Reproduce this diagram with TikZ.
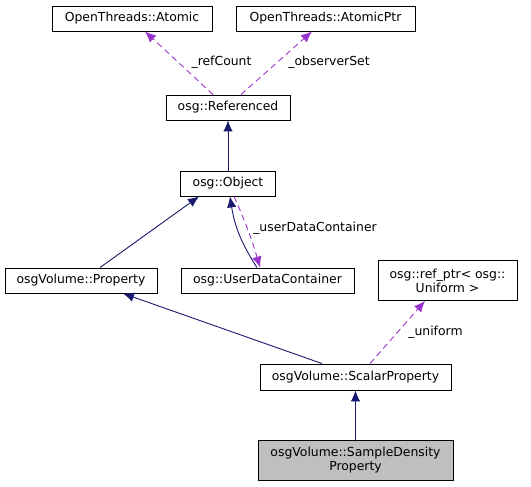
\documentclass[tikz,border=0pt]{standalone}
\usepackage{fontspec}
\setmainfont{DejaVu Sans}
\usetikzlibrary{arrows.meta}
\definecolor{edgeblue}{HTML}{191970}
\definecolor{edgepurple}{HTML}{9A32CD}
\definecolor{boxgray}{HTML}{BFBFBF}

\begin{document}
\begin{tikzpicture}
	[x=1pt,y=-1pt,every node/.style={draw,rectangle,inner sep=0pt,line width=0.9pt,font=\fontsize{12.4}{14}\selectfont,align=center},
	 inherit/.style={->,>={Latex[length=11pt,width=9.5pt]},edgeblue,line width=0.9pt},
	 member/.style={->,>={Latex[length=11pt,width=9.5pt]},edgepurple,line width=0.9pt,dash pattern=on 6pt off 4pt},
	 lbl/.style={draw=none}]
	\useasboundingbox (0,0) rectangle (531,487);
	\node[minimum width=160pt,minimum height=25pt] (atomic) at (132,18.5) {OpenThreads::Atomic};
	\node[minimum width=179pt,minimum height=25pt] (atomicptr) at (325.5,18.5) {OpenThreads::AtomicPtr};
	\node[minimum width=124pt,minimum height=25pt] (refd) at (228,107.5) {osg::Referenced};
	\node[minimum width=95pt,minimum height=25pt] (obj) at (228,183.5) {osg::Object};
	\node[minimum width=152pt,minimum height=25pt] (prop) at (81,280.5) {osgVolume::Property};
	\node[minimum width=173pt,minimum height=25pt] (udc) at (267.5,280.5) {osg::UserDataContainer};
	\node[minimum width=139pt,minimum height=40pt] (refptr) at (447.5,280.5) {osg::ref\_ptr< osg::\\Uniform >};
	\node[minimum width=191pt,minimum height=26pt] (scalar) at (355.5,377) {osgVolume::ScalarProperty};
	\node[minimum width=195pt,minimum height=40pt,fill=boxgray] (sample) at (355.5,460) {osgVolume::SampleDensity\\Property};

	\node[lbl] (lrefcount) at (221.5,62) {\_refCount};
	\node[lbl] (lobserver) at (329,62) {\_observerSet};
	\node[lbl] (luserdata) at (315,228) {\_userDataContainer};
	\node[lbl] (luniform) at (435.5,332) {\_uniform};

	\draw[member] ([xshift=-15pt]refd.north) -- ([xshift=13pt]atomic.south);
	\draw[member] ([xshift=13pt]refd.north) -- ([xshift=-13.5pt]atomicptr.south);
	\draw[inherit] (obj) -- (refd);
	\draw[inherit] ([xshift=19pt]prop.north) -- ([xshift=-29pt]obj.south);
	\draw[inherit] ([xshift=-10.5pt]udc.north) to[bend left=12] ([xshift=2pt]obj.south);
	\draw[member] ([xshift=6pt]obj.south) to[bend left=4] ([xshift=-7.5pt]udc.north);
	\draw[inherit] ([xshift=-33.5pt]scalar.north) -- ([xshift=42pt]prop.south);
	\draw[member] ([xshift=14.5pt]scalar.north) -- ([xshift=-22.5pt]refptr.south);
	\draw[inherit] (sample) -- (scalar);
\end{tikzpicture}
\end{document}
